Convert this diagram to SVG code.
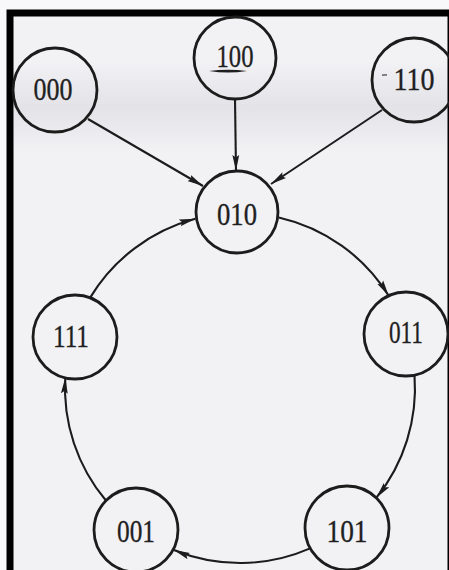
<svg xmlns="http://www.w3.org/2000/svg" width="449" height="570" viewBox="0 0 449 570">
  <defs>
    <linearGradient id="band" x1="0" y1="0" x2="0" y2="1">
      <stop offset="0" stop-color="#dcdce2" stop-opacity="0"/>
      <stop offset="0.5" stop-color="#dcdce2" stop-opacity="0.7"/>
      <stop offset="1" stop-color="#dcdce2" stop-opacity="0"/>
    </linearGradient>
    <marker id="ah" markerWidth="17" markerHeight="8" refX="16" refY="4" orient="auto" markerUnits="userSpaceOnUse">
      <path d="M0,0.6 L16,4 L0,7.4 L2.5,4 Z" fill="#1c1c1c"/>
    </marker>
    <style>
      .node circle { fill: none; stroke: #1c1c1c; stroke-width: 2.8; }
      .node text { font-family: "Liberation Serif", "Times New Roman", serif; font-size: 31px; fill: #1f1f1f; stroke: #1f1f1f; stroke-width: 0.35; text-anchor: middle; }
      .edge { fill: none; stroke: #1c1c1c; stroke-width: 2.1; marker-end: url(#ah); }
    </style>
  </defs>

  <rect x="0" y="0" width="449" height="570" fill="#f8f8fa"/>
  <rect x="10" y="13" width="445" height="600" fill="#f2f2f5"/>
  <rect x="14" y="62" width="435" height="90" fill="url(#band)"/>
  <rect x="10" y="13" width="441" height="600" fill="none" stroke="#000" stroke-width="7"/>

  <g id="connectors">
    <path class="edge" d="M88,119 L203,186"/>
    <path class="edge" d="M235,99 L236,171"/>
    <path class="edge" d="M382,110 L271,184"/>
    <path class="edge" d="M278.8,217.4 A175,175 0 0 1 388.7,295.8"/>
    <path class="edge" d="M414.5,375.2 A175,175 0 0 1 376.4,497.7"/>
    <path class="edge" d="M310.1,548.4 A175,175 0 0 1 173.9,550"/>
    <path class="edge" d="M106.3,501 A175,175 0 0 1 65.3,377.6"/>
    <path class="edge" d="M90,297.9 A175,175 0 0 1 195.3,218.8"/>
  </g>

  <g id="n000" class="node">
    <circle cx="55" cy="90" r="42"/>
    <text x="53" y="100" textLength="39" lengthAdjust="spacingAndGlyphs">000</text>
  </g>
  <g id="n100" class="node">
    <circle cx="235" cy="58" r="41"/>
    <text x="235" y="67" textLength="37" lengthAdjust="spacingAndGlyphs">100</text>
    <path d="M209,71 Q228,68.6 247,71 Q228,74.2 209,71 Z" fill="#1f1f1f"/>
  </g>
  <g id="n110" class="node">
    <circle cx="414" cy="80" r="42"/>
    <text x="414" y="90" textLength="41" lengthAdjust="spacingAndGlyphs">110</text>
    <path d="M382,75.2 L387,74.8" stroke="#444" stroke-width="1.2"/>
  </g>
  <g id="n010" class="node">
    <circle cx="237" cy="212" r="41"/>
    <text x="237" y="225" textLength="40" lengthAdjust="spacingAndGlyphs">010</text>
  </g>
  <g id="n011" class="node">
    <circle cx="406" cy="334" r="42"/>
    <text x="406" y="343" textLength="34" lengthAdjust="spacingAndGlyphs">011</text>
  </g>
  <g id="n101" class="node">
    <circle cx="347" cy="528" r="42"/>
    <text x="347" y="542" textLength="41" lengthAdjust="spacingAndGlyphs">101</text>
  </g>
  <g id="n001" class="node">
    <circle cx="136" cy="530" r="42"/>
    <text x="136" y="542" textLength="38" lengthAdjust="spacingAndGlyphs">001</text>
  </g>
  <g id="n111" class="node">
    <circle cx="75" cy="337" r="42"/>
    <text x="71" y="347" textLength="36" lengthAdjust="spacingAndGlyphs">111</text>
  </g>
</svg>
